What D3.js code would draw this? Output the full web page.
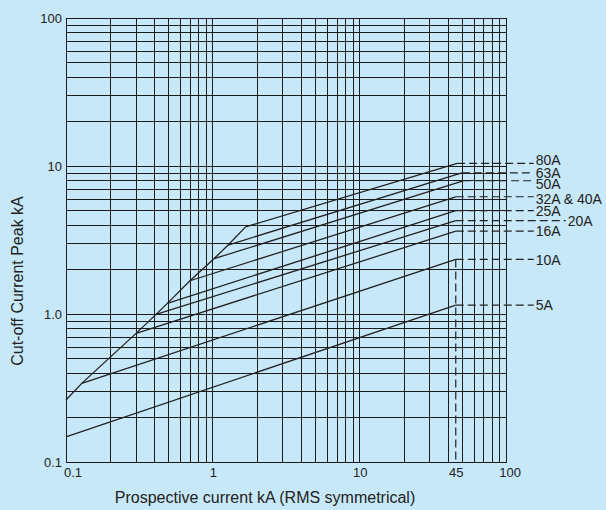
<!DOCTYPE html>
<html>
<head>
<meta charset="utf-8">
<script src="https://cdn.jsdelivr.net/npm/d3@7"></script>
<style>
  html, body { margin: 0; padding: 0; background: #c7e8f8; }
  svg { display: block; font-family: "Liberation Sans", Arial, Helvetica, sans-serif; }
</style>
</head>
<body>
<svg id="chart" width="606" height="510"></svg>
<script>
// ---- data ----
const categories   = ["5A", "10A", "16A", "20A", "25A", "32A & 40A", "50A", "63A", "80A"];
const startCurrent = [0.1, 0.128, 0.30, 0.41, 0.49, 0.698, 1.017, 1.27, 1.67];   // kA prospective
const startPeak    = [0.149, 0.342, 0.744, 1.0, 1.187, 1.687, 2.376, 2.94, 3.9]; // kA peak
const endCurrent   = [45, 45, 45, 45, 45, 45, 50.5, 49.5, 46];
const endPeak      = [1.155, 2.35, 3.65, 4.30, 5.02, 6.23, 7.99, 9.04, 10.47];
const envelopeCurrent = [0.1, 0.128, 0.30, 0.41, 0.49, 0.698, 1.017, 1.27, 1.67];
const envelopePeak    = [0.264, 0.342, 0.744, 1.0, 1.187, 1.687, 2.376, 2.94, 3.9];
const markerCurrent = 45;
const xTickValues = [0.1, 1, 10, 45, 100];
const xTickLabels = ["0.1", "1", "10", "45", "100"];
const yTickValues = [0.1, 1, 10, 100];
const yTickLabels = ["0.1", "1.0", "10", "100"];
const xTitle = "Prospective current kA (RMS symmetrical)";
const yTitle = "Cut-off Current Peak kA";

// ---- layout ----
const svg = d3.select("#chart");
const ink = "#222";
const x = d3.scaleLog().domain([0.1, 100]).range([66, 506.7]);
const y = d3.scaleLog().domain([0.1, 100]).range([462.4, 18.3]);

svg.append("rect").attr("width", 606).attr("height", 510).attr("fill", "#c7e8f8");

// grid
const grid = svg.append("g").attr("stroke", "#1c1c1c").attr("stroke-width", 1)
  .attr("fill", "none").attr("shape-rendering", "crispEdges");
grid.selectAll("line.v").data(x.ticks()).join("line").attr("class", "v")
  .attr("x1", d => x(d)).attr("x2", d => x(d))
  .attr("y1", y(0.1)).attr("y2", y(100));
grid.selectAll("line.h").data(y.ticks()).join("line").attr("class", "h")
  .attr("x1", x(0.1)).attr("x2", x(100))
  .attr("y1", d => y(d)).attr("y2", d => y(d));

// axes (labels only)
const xAxis = svg.append("g").attr("transform", `translate(0,${y(0.1)})`)
  .call(d3.axisBottom(x).tickValues(xTickValues).tickFormat((d, i) => xTickLabels[i]).tickSize(0).tickPadding(5));
const yAxis = svg.append("g").attr("transform", `translate(${x(0.1)},0)`)
  .call(d3.axisLeft(y).tickValues(yTickValues).tickFormat((d, i) => yTickLabels[i]).tickSize(0).tickPadding(4));
[xAxis, yAxis].forEach(a => {
  a.select(".domain").remove();
  a.selectAll("text").attr("font-size", 13).attr("fill", ink).attr("font-family", "Liberation Sans, Arial, sans-serif");
});
xAxis.selectAll(".tick text").filter((d, i) => i === 0).attr("dx", 6.5);
xAxis.selectAll(".tick text").filter((d, i) => i === 4).attr("dx", 3);

// envelope
const line = d3.line().x(d => x(d[0])).y(d => y(d[1]));
svg.append("path")
  .datum(envelopeCurrent.map((c, i) => [c, envelopePeak[i]]))
  .attr("d", line).attr("fill", "none").attr("stroke", ink).attr("stroke-width", 1.3);

// fuse lines
svg.append("g").selectAll("path").data(categories).join("path")
  .attr("d", (d, i) => line([[startCurrent[i], startPeak[i]], [endCurrent[i], endPeak[i]]]))
  .attr("fill", "none").attr("stroke", ink).attr("stroke-width", 1.3);

// dashed leaders & labels
const labelX = categories.map(c => c === "20A" ? 567.7 : 535.7);
const labelNudge = { "80A": -3.5, "50A": 3, "32A & 40A": 2, "10A": 1 };
svg.append("g").selectAll("line").data(categories).join("line")
  .attr("x1", (d, i) => x(endCurrent[i])).attr("x2", (d, i) => labelX[i] - 2)
  .attr("y1", (d, i) => y(endPeak[i])).attr("y2", (d, i) => y(endPeak[i]))
  .attr("stroke", ink).attr("stroke-width", 1.2).attr("stroke-dasharray", "8,4");
svg.append("g").selectAll("text").data(categories).join("text")
  .attr("x", (d, i) => labelX[i])
  .attr("y", (d, i) => y(endPeak[i]) + (labelNudge[d] || 0))
  .attr("dy", "0.36em")
  .attr("font-size", 14).attr("fill", ink)
  .text(d => d);

// vertical dashed marker at 45 kA
svg.append("line")
  .attr("x1", x(markerCurrent)).attr("x2", x(markerCurrent))
  .attr("y1", y(endPeak[1])).attr("y2", y(0.1))
  .attr("stroke", ink).attr("stroke-width", 1.2).attr("stroke-dasharray", "8,4");

// titles
svg.append("text").attr("x", 265).attr("y", 503).attr("text-anchor", "middle")
  .attr("font-size", 16).attr("fill", ink).text(xTitle);
svg.append("text").attr("transform", "translate(23,281) rotate(-90)").attr("text-anchor", "middle")
  .attr("font-size", 16).attr("fill", ink).text(yTitle);
</script>
</body>
</html>
